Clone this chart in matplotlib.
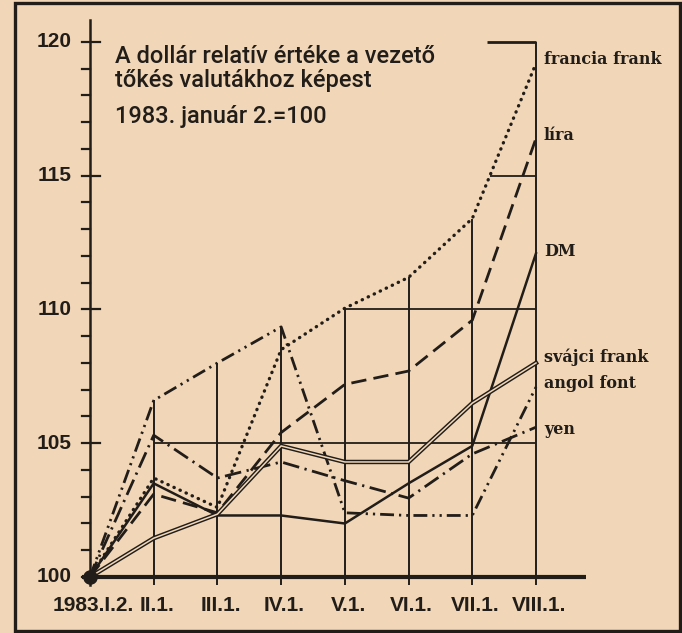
import numpy as np
import matplotlib
matplotlib.use("Agg")
import matplotlib.pyplot as plt
from matplotlib.patches import Rectangle

# ---- data ----
categories = ["1983.I.2.", "II.1.", "III.1.", "IV.1.", "V.1.", "VI.1.", "VII.1.", "VIII.1."]
francia_frank = [100, 103.7, 102.6, 108.5, 110.05, 111.2, 113.4, 119.2]
lira = [100, 103.1, 102.4, 105.4, 107.2, 107.7, 109.6, 116.4]
dm = [100, 103.5, 102.3, 102.3, 102.0, 103.5, 104.9, 112.1]
svajci_frank = [100, 101.45, 102.35, 104.9, 104.3, 104.3, 106.5, 108.0]
angol_font = [100, 106.6, 108.0, 109.35, 102.4, 102.3, 102.3, 107.1]
yen = [100, 105.3, 103.7, 104.3, 103.6, 102.95, 104.6, 105.6]
series_names = ["francia frank", "líra", "DM", "svájci frank", "angol font", "yen"]
label_values = [119.33, 116.52, 112.15, 108.22, 107.25, 105.5]
y_ticks = [100, 105, 110, 115, 120]
title_lines = ["A dollár relatív értéke a vezető", "tőkés valutákhoz képest", "1983. január 2.=100"]

# ---- style ----
PAPER = "#F1D7B8"
INK = "#221d19"
W, H = 682, 633
fig = plt.figure(figsize=(W / 100, H / 100), dpi=100, facecolor=PAPER)
ax = fig.add_axes([0, 0, 1, 1])
ax.set_facecolor(PAPER)
# map: category 0 -> px 90, category 7 -> px 536 ; value 100 -> px 577, 120 -> px 42
pxc = (536 - 90) / 7.0
pxv = (577 - 42) / 20.0
ax.set_xlim(-90 / pxc, (W - 90) / pxc)
ax.set_ylim(100 - (H - 577) / pxv, 100 + 577 / pxv)
ax.axis("off")

x = np.arange(len(categories))
allser = np.array([francia_frank, lira, dm, svajci_frank, angol_font, yen])
env = allser.max(axis=0)

# grid: vertical lines up to the envelope
bottom = 100 - 8 / pxv
for i in range(1, len(categories)):
    top = env[i] if i < len(categories) - 1 else 120
    ax.plot([x[i], x[i]], [bottom, top], color=INK, lw=1.4, solid_capstyle="butt", zorder=1)
# horizontal grid segments (level, start category)
grid_starts = [(105, 1.0), (110, 4.0), (115, 6.28), (120, 6.23)]
for lev, xs in grid_starts:
    ax.plot([xs, x[-1]], [lev, lev], color=INK, lw=1.3 if lev < 120 else 2.0,
            solid_capstyle="butt", zorder=1)

# y axis
ax.plot([0, 0], [bottom, 100 + 557 / pxv], color=INK, lw=1.8, zorder=2)
tl = 8 / pxc
for v in range(100, 121):
    if v % 5 == 0:
        ax.plot([-tl, 1.25 * tl], [v, v], color=INK, lw=1.6, zorder=2)
    else:
        ax.plot([-tl, 0], [v, v], color=INK, lw=1.6, zorder=2)
# baseline axis (100)
ax.plot([-tl, (586 - 90) / pxc], [100, 100], color=INK, lw=3.0, solid_capstyle="butt", zorder=2)

numfont = dict(family=["Liberation Sans Narrow", "Liberation Sans"], weight="bold", color=INK)
for v in y_ticks:
    ax.text((72 - 90) / pxc, v, str(v), ha="right", va="center", fontsize=15, **numfont)
for i, c in enumerate(categories):
    ax.text(x[i] + 0.05, 100 - 29 / pxv, c, ha="center", va="center", fontsize=15, **numfont)

# series
lw = 2.0
ax.plot(x, francia_frank, color=INK, lw=2.4, linestyle=(0, (0.1, 1.9)), dash_capstyle="round", zorder=4)
ax.plot(x, lira, color=INK, lw=lw, linestyle=(0, (5.5, 2.6)), zorder=4)
ax.plot(x, dm, color=INK, lw=1.8, zorder=4)
ax.plot(x, svajci_frank, color=INK, lw=3.2, zorder=4, solid_joinstyle="miter")
ax.plot(x, svajci_frank, color=PAPER, lw=1.1, zorder=5, solid_joinstyle="miter")
ax.plot(x, angol_font, color=INK, lw=lw, linestyle=(0, (5.0, 1.8, 0.8, 1.8, 0.8, 1.8)), zorder=4)
ax.plot(x, yen, color=INK, lw=lw, linestyle=(0, (6.0, 2.0, 0.8, 2.0)), zorder=4)
ax.plot([x[0]], [francia_frank[0]], "o", color=INK, ms=9.5, zorder=6)

# series labels
for name, lv in zip(series_names, label_values):
    ax.text((544 - 90) / pxc, lv, name, ha="left", va="center", fontsize=11.5,
            family=["DejaVu Serif"], weight="bold", color=INK)

# title
tx = (115 - 90) / pxc
for line, bpx in zip(title_lines, [63, 87, 123]):
    ax.text(tx, 100 + (577 - bpx) / pxv, line, ha="left", va="baseline", fontsize=17,
            family=["Roboto", "Liberation Sans"], weight=500, color=INK)

# outer frame
fig.add_artist(Rectangle((15 / W, 2 / H), (680 - 15) / W, (631 - 3) / H, transform=fig.transFigure,
                         fill=False, edgecolor=INK, lw=2.4))

fig.savefig("out.png", dpi=100, facecolor=PAPER)
